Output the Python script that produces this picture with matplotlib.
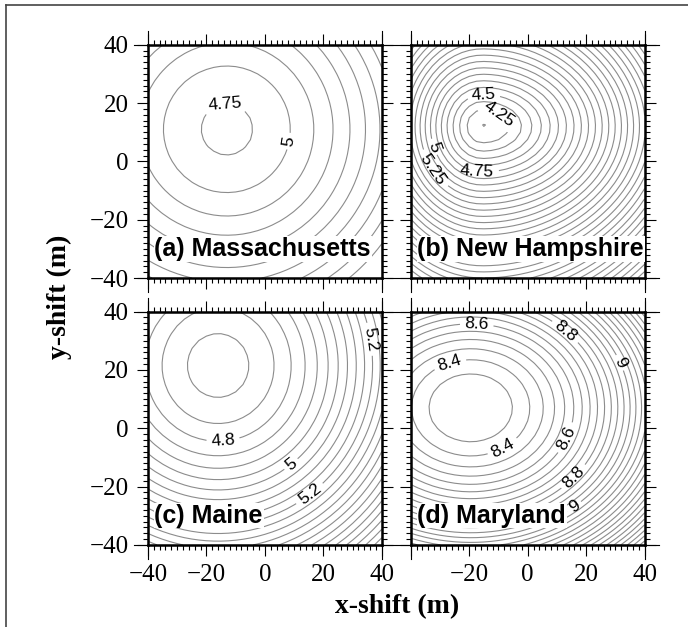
import numpy as np
import matplotlib
matplotlib.use('Agg')
import matplotlib.pyplot as plt
from matplotlib.lines import Line2D
from matplotlib.ticker import MultipleLocator

# panel names
panels = ['(a) Massachusetts', '(b) New Hampshire', '(c) Maine', '(d) Maryland']

# misfit surfaces:
# f = fmin + sqrt(knee^2 + (dx/sx)^2 + (dy/sy)^2) - knee + x_curv*dx^2
# (sx differs left / right of the minimum)
best_x = [-13.0, -15.5, -16.0, -19.5]
best_y = [11.0, 12.0, 21.5, 7.0]
fmin = [4.699, 4.12, 4.678, 8.30]
knee = [4.699, 0.383, 4.678, 8.30]
x_scale_left = [12.71, 16.0, 23.27, 15.67]
x_scale_right = [12.71, 30.0, 23.27, 15.67]
y_scale = [12.71, 16.7, 24.18, 12.8]
x_curv = [0.0, 0.000279, 0.0, 0.0]

# contour levels (first, last, step)
level_first = [4.75, 4.125, 4.70, 8.35]
level_last = [7.0, 8.5, 6.0, 10.0]
level_step = [0.25, 0.125, 0.05, 0.05]

# annotated contours and where their labels sit
label_levels = [
    [4.75, 5.0],
    [4.25, 4.5, 4.75, 5.0, 5.25],
    [4.8, 5.0, 5.2],
    [8.4, 8.6, 8.8, 9.0],
]
label_pos = [
    [(-13.7, 20.1), (9.2, 6.7)],
    [(-15.0, 21.8), (-9.5, 16.5), (-17.4, -3.5), (-32.0, 5.0), (-32.0, -2.5)],
    [(-14.4, -3.1), (9.2, -12.6), (16.4, -23.9), (33.5, 30.1)],
    [(-26.7, 22.6), (-8.9, -5.8), (-17.4, 35.9), (13.3, -3.4),
     (12.6, 32.8), (16.8, -17.7), (33.2, 23.2), (17.1, -28.6)],
]

grid = np.arange(-40, 40.01, 2.5)
X, Y = np.meshgrid(grid, grid)

fig = plt.figure(figsize=(6.88, 6.27), dpi=100)

# axes boxes in figure fractions
W, H = 0.340, 0.372
lefts = [0.215, 0.597, 0.215, 0.597]
bottoms = [0.5566, 0.5566, 0.131, 0.131]

serif = 'Liberation Serif'
sans = 'Liberation Sans'
line_kw = dict(colors='#8c8c8c', linewidths=0.8)

for i in range(4):
    ax = fig.add_axes([lefts[i], bottoms[i], W, H])
    dx = X - best_x[i]
    dy = Y - best_y[i]
    sx = np.where(dx < 0, x_scale_left[i], x_scale_right[i])
    q = (dx / sx) ** 2 + (dy / y_scale[i]) ** 2
    Z = fmin[i] + np.sqrt(knee[i] ** 2 + q) - knee[i] + x_curv[i] * dx ** 2
    levels = np.round(np.arange(level_first[i], level_last[i] + 1e-9, level_step[i]), 3)
    labelled = np.array(label_levels[i])
    plain = [v for v in levels if not np.any(np.isclose(v, labelled))]
    ax.contour(X, Y, Z, levels=plain, **line_kw)
    cs = ax.contour(X, Y, Z, levels=labelled, **line_kw)
    lbls = ax.clabel(cs, manual=label_pos[i], inline=True, inline_spacing=3,
                     fmt=lambda v: f'{v:g}', fontsize=12.5, colors='black')
    for t in lbls:
        t.set_fontfamily(sans)

    ax.set_xlim(-40, 40)
    ax.set_ylim(-40, 40)
    for s in ax.spines.values():
        s.set_linewidth(1.8)
    ax.xaxis.set_major_locator(MultipleLocator(20))
    ax.yaxis.set_major_locator(MultipleLocator(20))
    ax.xaxis.set_minor_locator(MultipleLocator(2))
    ax.yaxis.set_minor_locator(MultipleLocator(2))
    ax.tick_params(which='both', direction='out', top=True, right=True, width=0.8, color='black')
    ax.tick_params(which='major', length=8)
    ax.tick_params(which='minor', length=3.5)
    ax.tick_params(axis='x', pad=6, labelsize=18)
    ax.tick_params(axis='y', pad=6, labelsize=18)
    ax.tick_params(labelbottom=i >= 2, labelleft=i % 2 == 0)
    for t in ax.get_xticklabels() + ax.get_yticklabels():
        t.set_fontfamily(serif)
    if i == 3:
        ax.set_xticks([-40, -20, 0, 20, 40])
        ax.set_xticklabels(['', '\u221220', '0', '20', '40'], fontfamily=serif, fontsize=18)

    # thin axis lines running past the frame corners
    ext = 0.06
    for yy in (0, 1):
        ax.add_line(Line2D([-ext, 1 + ext], [yy, yy], transform=ax.transAxes,
                           color='black', lw=0.8, clip_on=False))
    for xx in (0, 1):
        ax.add_line(Line2D([xx, xx], [-ext, 1 + ext], transform=ax.transAxes,
                           color='black', lw=0.8, clip_on=False))

    ax.text(0.028, 0.125, panels[i], transform=ax.transAxes, fontsize=18,
            fontweight='bold', fontfamily=sans, va='center', ha='left', zorder=5,
            bbox=dict(facecolor='white', edgecolor='none', pad=0.5))

fig.text(0.086, 0.527, 'y-shift (m)', rotation=90, ha='center', va='center',
         fontsize=20, fontweight='bold', fontfamily=serif)
fig.text(0.577, 0.032, 'x-shift (m)', ha='center', va='center',
         fontsize=20, fontweight='bold', fontfamily=serif)

# page frame (top and left edges only)
fig.add_artist(Line2D([6 / 688, 1], [1 - 5 / 627, 1 - 5 / 627], transform=fig.transFigure,
                      color='#444444', lw=1.2))
fig.add_artist(Line2D([6 / 688, 6 / 688], [0, 1 - 5 / 627], transform=fig.transFigure,
                      color='#444444', lw=1.2))

fig.savefig('out.png', dpi=100)
